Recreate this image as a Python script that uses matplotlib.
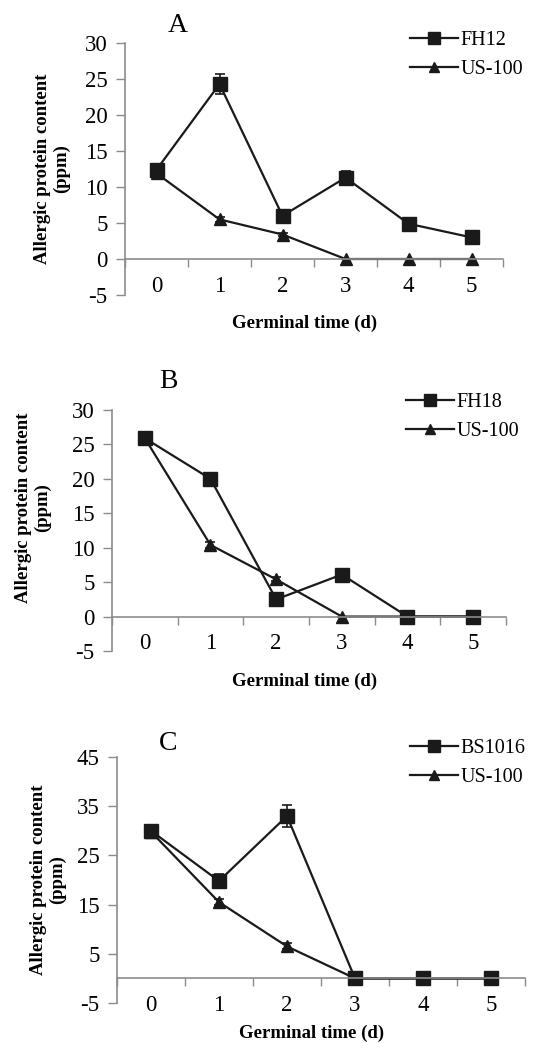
import matplotlib
matplotlib.use("Agg")
import matplotlib.pyplot as plt
import numpy as np

plt.rcParams['font.family'] = ['Liberation Serif', 'DejaVu Serif']

days = [0, 1, 2, 3, 4, 5]

# panel A
fh12 = [12.4, 24.3, 6.0, 11.3, 4.9, 3.0]
fh12_err = [0.5, 1.4, 0.3, 0.9, 0.3, 0.2]
us100_a = [11.9, 5.5, 3.4, 0, 0, 0]
us100_a_err = [0.3, 0.3, 0.2, 0, 0, 0]

# panel B
fh18 = [25.9, 20.0, 2.5, 6.1, 0, 0]
fh18_err = [0.3, 0.3, 0.4, 0.3, 0, 0]
us100_b = [25.9, 10.4, 5.4, 0, 0, 0]
us100_b_err = [0.3, 0.5, 0.3, 0, 0, 0]

# panel C
bs1016 = [30.0, 19.8, 33.0, 0, 0, 0]
bs1016_err = [0.4, 1.5, 2.3, 0, 0, 0]
us100_c = [29.8, 15.5, 6.5, 0, 0, 0]
us100_c_err = [0.3, 0.6, 0.6, 0, 0, 0]

line_c = '#1a1a1a'
axis_c = '#8c8c8c'

W, H = 537, 1043

# axes boxes and text anchors in pixels from the top-left corner
panels = [
    dict(letter='A', name='FH12', y1=fh12, e1=fh12_err, y2=us100_a, e2=us100_a_err,
         ylim=(-5, 30), yticks=np.arange(-5, 31, 5),
         box=(125, 43, 503, 295), ylab=(52, 169), xlab=(305, 323),
         letter_xy=(178, 25), leg_xy=(410, 31)),
    dict(letter='B', name='FH18', y1=fh18, e1=fh18_err, y2=us100_b, e2=us100_b_err,
         ylim=(-5, 30), yticks=np.arange(-5, 31, 5),
         box=(112, 410, 506, 651), ylab=(33, 508), xlab=(305, 681),
         letter_xy=(168, 382), leg_xy=(406, 393)),
    dict(letter='C', name='BS1016', y1=bs1016, e1=bs1016_err, y2=us100_c, e2=us100_c_err,
         ylim=(-5, 45), yticks=np.arange(-5, 46, 10),
         box=(117, 757, 525, 1003), ylab=(48, 880), xlab=(312, 1033),
         letter_xy=(168, 743), leg_xy=(410, 739)),
]

fig = plt.figure(figsize=(5.37, 10.43), dpi=100)

for p in panels:
    x0, y0, x1, y1 = p['box']
    ax = fig.add_axes([x0 / W, 1 - y1 / H, (x1 - x0) / W, (y1 - y0) / H])
    ax.errorbar(days, p['y1'], yerr=p['e1'], color=line_c, marker='s', ms=9.5,
                lw=1.6, capsize=3.5, elinewidth=1.2, capthick=1.2, label=p['name'])
    ax.errorbar(days, p['y2'], yerr=p['e2'], color=line_c, marker='^', ms=8.5,
                lw=1.6, capsize=3.5, elinewidth=1.2, capthick=1.2, label='US-100')

    ax.set_xlim(-0.5, 5.5)
    ax.set_ylim(*p['ylim'])
    ax.set_yticks(p['yticks'])
    ax.set_yticklabels([str(v) for v in p['yticks']], fontsize=16.5)

    # category axis: boundary ticks on the zero line, labels under the columns
    ax.spines['bottom'].set_position(('data', 0))
    ax.set_xticks(np.arange(-0.5, 6, 1))
    ax.set_xticklabels([])
    ax.set_xticks(days, minor=True)
    ax.set_xticklabels([str(d) for d in days], minor=True, fontsize=16.5)
    ax.tick_params(axis='x', which='major', direction='out', length=6, width=1, color=axis_c)
    ax.tick_params(axis='x', which='minor', length=0, pad=12)
    ax.tick_params(axis='y', direction='out', length=6.5, width=1, color=axis_c, pad=6)

    for s in ['top', 'right']:
        ax.spines[s].set_visible(False)
    for s in ['left', 'bottom']:
        ax.spines[s].set_color(axis_c)
        ax.spines[s].set_linewidth(1.2)

    lx, ly = p['ylab']
    fig.text(lx / W, 1 - ly / H, 'Allergic protein content\n(ppm)', fontsize=13.5,
             fontweight='bold', rotation=90, ha='center', va='center', linespacing=1.15,
             multialignment='center')
    lx, ly = p['xlab']
    fig.text(lx / W, 1 - ly / H, 'Germinal time (d)', fontsize=13.5, fontweight='bold',
             ha='center', va='center')

    lx, ly = p['letter_xy']
    fig.text(lx / W, 1 - ly / H, p['letter'], fontsize=20, ha='center', va='center')

    hx, hy = p['leg_xy']
    handles, labels = ax.get_legend_handles_labels()
    handles = [h[0] for h in handles]
    ax.legend(handles, labels, loc='upper left', bbox_to_anchor=(hx / W, 1 - hy / H),
              bbox_transform=fig.transFigure, frameon=False, fontsize=14.5,
              handlelength=2.4, handletextpad=0.1, borderpad=0, borderaxespad=0,
              labelspacing=0.5, markerscale=0.9)

fig.savefig('out.png', dpi=100)
